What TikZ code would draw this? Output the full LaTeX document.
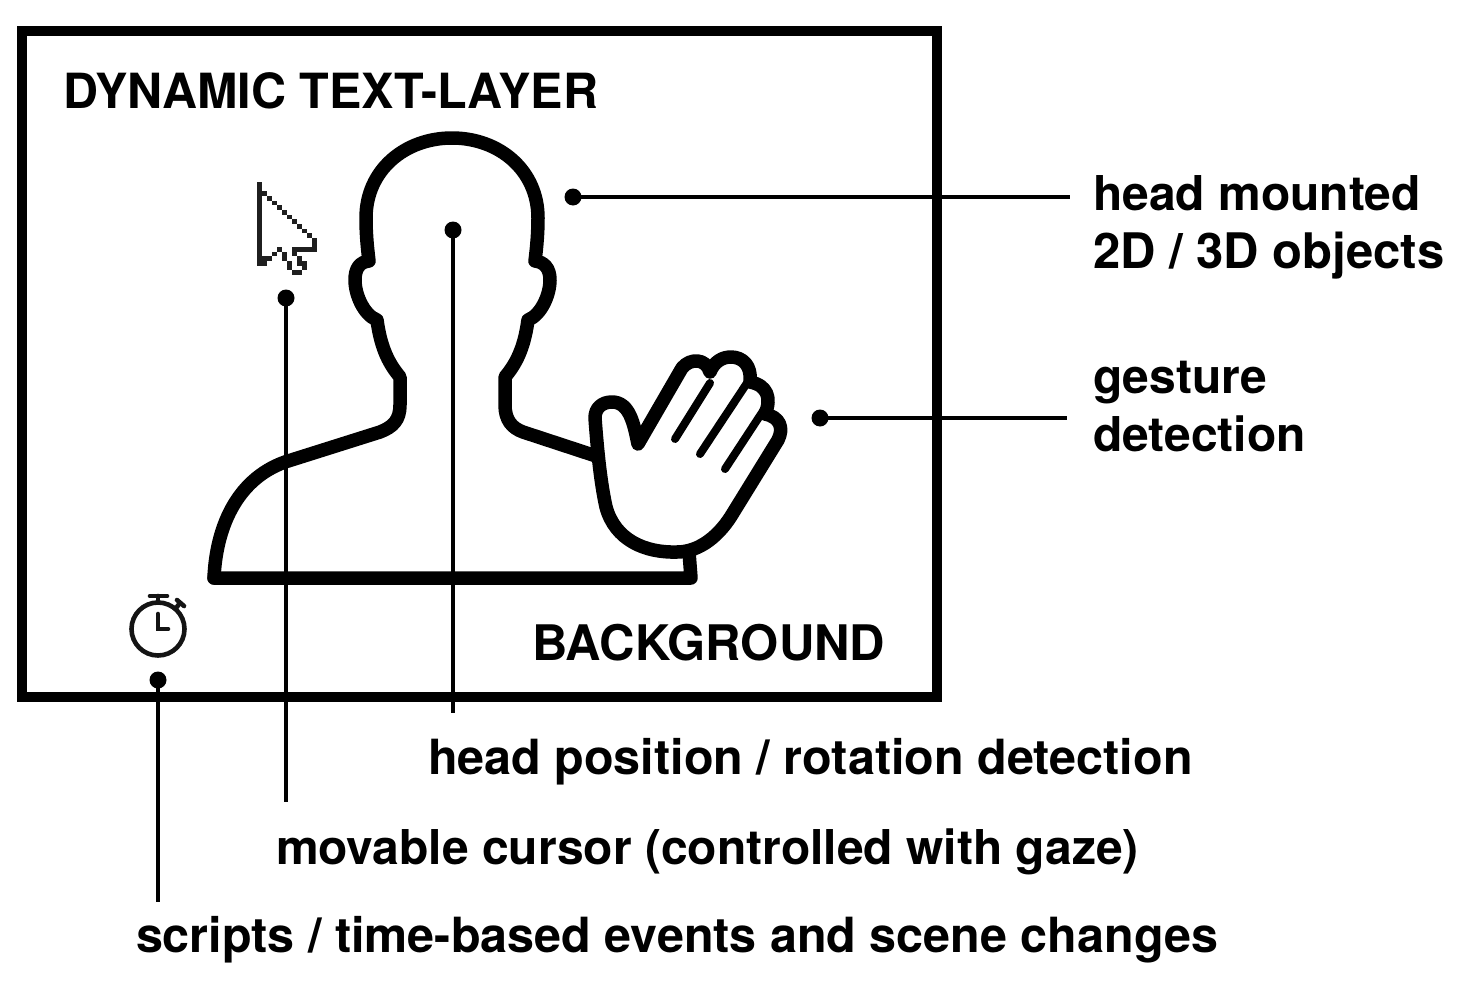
\documentclass[tikz,border=0pt]{standalone}
\usepackage{fontspec}
\setmainfont{TeX Gyre Heros}
\begin{document}
\begin{tikzpicture}[x=1pt,y=-1pt,
  lbl/.style={anchor=base west,inner sep=0pt,outer sep=0pt,font=\bfseries\fontsize{48}{48}\selectfont},
  lblb/.style={anchor=base west,inner sep=0pt,outer sep=0pt,font=\bfseries\fontsize{48.5}{48}\selectfont},
  lblc/.style={anchor=base west,inner sep=0pt,outer sep=0pt,font=\bfseries\fontsize{49}{48}\selectfont},
  dotn/.style={circle,fill=black,inner sep=0pt,minimum size=17pt},
  conn/.style={line width=4pt},
  figure/.style={line width=13.5pt,line join=round,line cap=round},
  fing/.style={line width=8pt,line cap=round},
  watch/.style={line width=4.6pt,line cap=round,color=black!92}]
\useasboundingbox (0,0) rectangle (1478,990);
\draw[line width=10.5pt] (22,31) rectangle (937,697);
% head and shoulders
\draw[figure] (214,578)
  .. controls (216,530) and (235,480) .. (285,462)
  -- (380,432)
  .. controls (393,427) and (400,420) .. (400,405)
  -- (400,377)
  .. controls (390,365) and (381,350) .. (377,320)
  .. controls (364,315) and (355,295) .. (355,280)
  .. controls (355,268) and (360,262) .. (369,261)
  .. controls (367,245) and (366,232) .. (366,218)
  .. controls (366,170) and (405,138) .. (452,138)
  .. controls (499,138) and (538,170) .. (538,218)
  .. controls (538,232) and (537,245) .. (535,261)
  .. controls (544,262) and (550,268) .. (550,280)
  .. controls (550,295) and (541,315) .. (528,320)
  .. controls (524,350) and (515,365) .. (505,377)
  -- (505,405)
  .. controls (505,420) and (512,428) .. (523,432)
  -- (596,456);
\draw[figure] (214,578) -- (691,578) -- (689,552);
% hand
\draw[figure,fill=white] (638,444)
  .. controls (634,425) and (630,402) .. (612,402)
  .. controls (602,402) and (595,408) .. (595,418)
  .. controls (597,445) and (600,480) .. (606,507)
  .. controls (615,540) and (645,553) .. (677,552)
  .. controls (700,552) and (720,535) .. (733,513)
  -- (778,440)
  .. controls (784,428) and (780,417) .. (765,414)
  .. controls (772,398) and (767,385) .. (750,382)
  .. controls (752,365) and (742,357) .. (731,357)
  .. controls (722,357) and (714,362) .. (710,372)
  .. controls (706,358) and (690,358) .. (682,368)
  -- cycle;
\draw[fing] (675,439) -- (710,383);
\draw[fing] (700,454) -- (749,380);
\draw[fing] (725,469) -- (765,408);
% cursor
\foreach \c/\r in {0/0,0/1,0/2,0/3,0/4,0/5,0/6,0/7,0/8,0/9,0/10,0/11,0/12,0/13,0/14,0/15,0/16,0/17,
  1/2,2/3,3/4,4/5,5/6,6/7,7/8,8/9,9/10,10/11,11/12,11/13,11/14,
  10/14,9/14,8/14,7/14,7/15,8/16,8/17,9/17,9/18,8/19,7/19,6/17,6/18,5/15,5/16,4/14,3/15,2/16,1/17,1/16}
  \fill[black!88] ({257+5*\c},{182+4.65*\r}) rectangle +(5,4.65);
% stopwatch
\draw[watch] (158,629) circle (26.5);
\draw[watch] (150,596) -- (167,596);
\draw[watch] (158,596) -- (158,602);
\draw[watch] (177,600) -- (184,606);
\draw[watch] (176,608) -- (180,603);
\draw[watch] (158,614) -- (158,629) -- (168,629);
% dots
\node[dotn] (d1) at (573,197) {};
\node[dotn] (d2) at (820,418) {};
\node[dotn] (d3) at (453,230) {};
\node[dotn] (d4) at (286,298) {};
\node[dotn] (d5) at (158,680) {};
\coordinate (e1) at (1070,197);
\coordinate (e2) at (1067,418);
\coordinate (e3) at (453,713);
\coordinate (e4) at (286,802);
\coordinate (e5) at (158,902);
\draw[conn] (d1.center) -- (e1);
\draw[conn] (d2.center) -- (e2);
\draw[conn] (d3.center) -- (e3);
\draw[conn] (d4.center) -- (e4);
\draw[conn] (d5.center) -- (e5);
% labels
\node[lblb] (t1) at (63,108) {DYNAMIC TEXT-LAYER};
\node[lblc] (t2) at (532,660) {BACKGROUND};
\node[lbl] (l1) at (1093,210) {head mounted};
\node[lblc] (l2) at (1093,268) {2D / 3D objects};
\node[lbl] (l3) at (1093,393) {gesture};
\node[lbl] (l4) at (1093,451) {detection};
\node[lblb] (l5) at (428,774) {head position / rotation detection};
\node[lbl] (l6) at (276,864) {movable cursor (controlled with gaze)};
\node[lblb] (l7) at (136,952) {scripts / time-based events and scene changes};
\end{tikzpicture}
\end{document}
